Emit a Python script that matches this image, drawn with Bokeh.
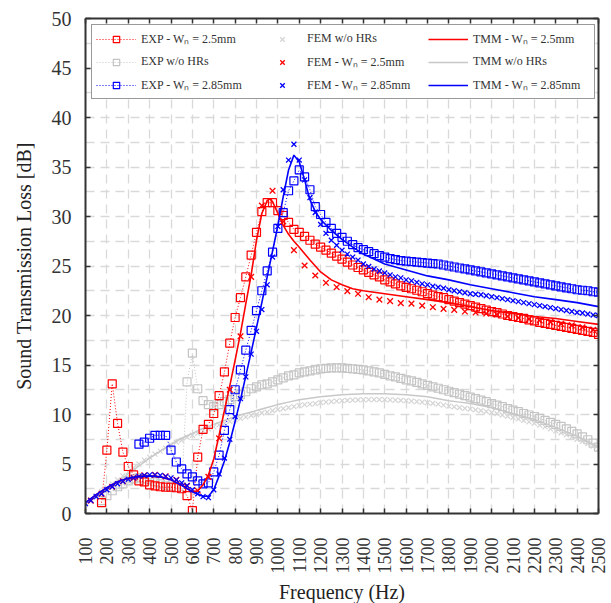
import math
from bokeh.plotting import figure
from bokeh.models import (LinearAxis, FixedTicker, Legend, LegendItem, Range1d)
from bokeh.embed import file_html
from bokeh.resources import INLINE

nan = float('nan')

# ---------------- data ----------------
EXP_FREQ = list(range(100, 2501, 25))

EXP_25 = [
    nan, nan, nan, 1.1,
    6.4, 13.1, 9.1, 6.2,
    4.75, 3.9, 3.3, 3.2,
    2.9, 2.8, 2.7, 2.65,
    2.65, 2.6, 2.5, 1.8,
    0.3, 5.7, 8.5, 9.0,
    10.1, 11.9, 14.3, 17.2,
    19.8, 21.8, 23.9, 26.1,
    28.4, 30.5, 31.4, 31.4,
    30.6, 30.1, 29.4, 28.7,
    28.4, 28.0, 27.6, 27.2,
    26.9, 26.6, 26.3, 26.0,
    25.7, 25.4, 25.1, 24.85,
    24.6, 24.35, 24.1, 23.9,
    23.6, 23.4, 23.2, 23.0,
    22.85, 22.7, 22.55, 22.4,
    22.2, 22.05, 21.9, 21.8,
    21.6, 21.45, 21.3, 21.15,
    21.0, 20.85, 20.7, 20.55,
    20.4, 20.3, 20.15, 20.0,
    19.9, 19.8, 19.7, 19.55,
    19.45, 19.3, 19.2, 19.1,
    19.0, 18.9, 18.8, 18.7,
    18.6, 18.5, 18.4, 18.3,
    18.1,
]

EXP_NOHR = [
    nan, nan, nan, 1.3,
    1.8, 2.3, 2.7, 3.0,
    3.3, 3.5, 3.6, 3.5,
    3.4, 3.2, 3.0, 2.8,
    2.7, 2.6, 2.7, 13.3,
    16.2, 12.6, 11.4, 11.0,
    10.8, 11.0, 11.3, 11.5,
    11.8, 12.0, 12.3, 12.6,
    12.8, 13.0, 13.1, 13.3,
    13.5, 13.7, 13.9, 14.0,
    14.2, 14.3, 14.4, 14.5,
    14.6, 14.65, 14.7, 14.7,
    14.7, 14.65, 14.6, 14.55,
    14.5, 14.4, 14.3, 14.2,
    14.05, 13.9, 13.8, 13.65,
    13.5, 13.4, 13.25, 13.1,
    12.95, 12.8, 12.65, 12.5,
    12.35, 12.2, 12.05, 11.9,
    11.75, 11.6, 11.45, 11.3,
    11.1, 10.95, 10.8, 10.6,
    10.45, 10.3, 10.1, 9.95,
    9.8, 9.6, 9.4, 9.2,
    9.0, 8.8, 8.55, 8.3,
    8.05, 7.75, 7.45, 7.1,
    6.7,
]

EXP_285 = [
    nan, nan, nan, nan,
    nan, nan, nan, nan,
    nan, nan, 7.0, 7.2,
    7.6, 7.9, 7.9, 7.9,
    6.4, 5.2, 4.5, 4.0,
    3.7, 3.3, 3.0, 3.1,
    4.2, 5.9, 8.4, 10.5,
    12.5, 14.5, 16.5, 18.5,
    20.5, 22.5, 24.5, 26.4,
    28.8, 30.4, 32.6, 33.6,
    34.7, 34.0, 32.7, 31.0,
    30.2, 29.4, 28.8, 28.3,
    27.9, 27.5, 27.15, 26.85,
    26.65, 26.45, 26.25, 26.05,
    25.9, 25.75, 25.65, 25.55,
    25.5, 25.45, 25.4, 25.35,
    25.3, 25.25, 25.2, 25.1,
    25.0, 24.9, 24.8, 24.7,
    24.6, 24.5, 24.4, 24.3,
    24.2, 24.1, 24.0, 23.9,
    23.8, 23.7, 23.6, 23.5,
    23.4, 23.3, 23.2, 23.1,
    23.0, 22.9, 22.8, 22.7,
    22.6, 22.55, 22.5, 22.4,
    22.35,
]

FEM_FREQ = list(range(100, 2501, 25))

FEM_NOHR = [
    1.0, 1.4, 1.8, 2.2,
    2.6, 3.0, 3.4, 3.8,
    4.2, 4.6, 5.0, 5.4,
    5.7, 6.0, 6.3, 6.6,
    6.9, 7.2, 7.4, 7.7,
    7.9, 8.1, 8.35, 8.55,
    8.75, 8.95, 9.1, 9.3,
    9.45, 9.6, 9.75, 9.9,
    10.0, 10.15, 10.25, 10.4,
    10.5, 10.6, 10.7, 10.8,
    10.9, 11.0, 11.05, 11.1,
    11.2, 11.25, 11.3, 11.35,
    11.4, 11.42, 11.45, 11.47,
    11.5, 11.5, 11.5, 11.5,
    11.5, 11.48, 11.45, 11.42,
    11.4, 11.35, 11.3, 11.25,
    11.2, 11.13, 11.05, 10.95,
    10.85, 10.78, 10.7, 10.62,
    10.55, 10.47, 10.4, 10.3,
    10.2, 10.08, 9.95, 9.82,
    9.7, 9.55, 9.4, 9.25,
    9.1, 8.92, 8.75, 8.55,
    8.35, 8.15, 7.95, 7.72,
    7.5, 7.28, 7.05, 6.8,
    6.55,
]

FEM_285 = [
    1.0, 1.3, 1.7, 2.0,
    2.4, 2.7, 3.0, 3.25,
    3.45, 3.6, 3.75, 3.85,
    3.9, 3.9, 3.85, 3.75,
    3.6, 3.4, 3.1, 2.8,
    2.4, 2.0, 1.7, 1.6,
    2.4, 4.0, 5.6, 7.5,
    9.8, 11.6, 13.8, 16.1,
    18.4, 20.6, 23.1, 25.9,
    29.0, 32.7, 35.7, 37.3,
    35.7, 33.7, 31.9, 30.4,
    29.2, 28.3, 27.6, 27.1,
    26.6, 26.2, 25.9, 25.6,
    25.2, 24.95, 24.7, 24.5,
    24.3, 24.1, 23.9, 23.8,
    23.6, 23.5, 23.35, 23.2,
    23.1, 22.95, 22.85, 22.75,
    22.6, 22.5, 22.4, 22.3,
    22.2, 22.15, 22.1, 22.0,
    21.9, 21.8, 21.7, 21.6,
    21.5, 21.4, 21.3, 21.2,
    21.1, 21.0, 20.9, 20.8,
    20.7, 20.6, 20.5, 20.4,
    20.3, 20.25, 20.15, 20.05,
    20.0,
]

FEM25_FREQ = list(range(125, 2476, 50))
FEM_25 = [
    1.3, 2.0, 2.7, 3.25, 3.6, 3.85, 3.9, 3.75, 3.4, 2.8,
    2.3, 3.7, 7.6, 12.5, 17.9, 23.9, 31.1, 32.6, 29.5, 26.6,
    25.05, 24.04, 23.3, 22.86, 22.46, 22.19, 21.85, 21.6, 21.45, 21.25,
    21.2, 21.0, 20.84, 20.67, 20.57, 20.4, 20.3, 20.2, 20.1, 19.9,
    19.77, 19.66, 19.5, 19.33, 19.16, 19.0, 18.8, 18.55,
]

TMM25_FREQ = [100, 150, 200, 250, 300, 350, 400, 450, 500, 550, 600,
              625, 650, 675, 700, 725, 750, 775, 800, 825, 850, 875, 900, 925, 950,
              962, 975, 1000, 1025, 1050, 1075, 1100,
              1150, 1200, 1250, 1300, 1350, 1400,
              1500, 1600, 1700, 1800, 1900, 2000, 2100, 2200, 2300, 2400, 2500]
TMM_25 = [1.1, 1.9, 2.6, 3.2, 3.55, 3.75, 3.8, 3.7, 3.4, 2.85, 2.2,
          2.3, 2.9, 3.9, 5.5, 7.9, 10.4, 12.9, 15.5, 18.2, 21.2, 24.1, 27.6, 30.3, 31.6,
          31.8, 31.5, 30.3, 29.1, 28.2, 27.5, 26.9,
          25.6, 24.4, 23.6, 23.1, 22.7, 22.5,
          22.2, 21.9, 21.6, 21.3, 20.9, 20.5, 20.2, 19.9, 19.7, 19.4, 19.1]

TMM285_FREQ = [100, 150, 200, 250, 300, 350, 400, 450, 500, 550, 600,
               625, 650, 675, 700, 725, 750, 775, 800, 825, 850, 875, 900, 925, 950,
               975, 1000, 1025, 1050, 1075, 1100, 1125, 1150, 1175, 1200,
               1250, 1300, 1350, 1400, 1450, 1500,
               1600, 1700, 1800, 1900, 2000, 2100, 2200, 2300, 2400, 2500]
TMM_285 = [1.1, 1.9, 2.6, 3.2, 3.55, 3.75, 3.8, 3.7, 3.4, 2.85, 2.2,
           1.95, 1.75, 1.75, 2.4, 3.8, 5.3, 7.2, 9.3, 11.5, 13.9, 16.3, 18.8, 21.3, 23.9,
           26.5, 29.1, 32.0, 34.7, 36.2, 35.5, 33.7, 31.7, 30.5, 29.7,
           28.6, 27.7, 26.9, 26.2, 25.7, 25.2,
           24.6, 24.0, 23.6, 23.1, 22.7, 22.3, 21.9, 21.6, 21.3, 20.9]

TMMNOHR_FREQ = list(range(100, 2501, 50))
TMM_NOHR = [1.1, 1.6, 2.4, 3.2, 4.0, 4.8, 5.6, 6.3, 7.0, 7.6,
            8.1, 8.6, 9.0, 9.4, 9.8, 10.1, 10.4, 10.7, 11.0, 11.25,
            11.5, 11.65, 11.8, 11.9, 12.0, 12.05, 12.1, 12.1, 12.1, 12.05,
            12.0, 11.9, 11.8, 11.6, 11.4, 11.25, 11.1, 10.9, 10.7, 10.4,
            10.1, 9.8, 9.5, 9.1, 8.7, 8.25, 7.8, 7.25, 6.7]

X_TICKS = list(range(100, 2501, 100))
Y_TICKS = list(range(0, 51, 5))
Y_MINOR = [2.5 + 5 * i for i in range(10)]

LABELS_EXP = ["EXP - Wₙ = 2.5mm", "EXP w/o HRs", "EXP - Wₙ = 2.85mm"]
LABELS_FEM = ["FEM w/o HRs", "FEM - Wₙ = 2.5mm", "FEM - Wₙ = 2.85mm"]
LABELS_TMM = ["TMM - Wₙ = 2.5mm", "TMM w/o HRs", "TMM - Wₙ = 2.85mm"]

RED = "#ff0000"
BLUE = "#0000ff"
GRAY_SQ = "#c4c4c4"
GRAY_X = "#d4d4d4"
GRAY_LN = "#c8c8c8"
FONT = "Liberation Serif"
FONT_AX = "Liberation Serif,serif"
AX = "#333333"

# ---------------- figure ----------------
p = figure(frame_width=513, frame_height=495,
           x_range=Range1d(100, 2500), y_range=Range1d(0, 50),
           output_backend="svg", toolbar_location=None,
           min_border_left=85, min_border_right=12,
           min_border_top=18, min_border_bottom=86)
p.outline_line_color = None
p.background_fill_color = "white"

xt = FixedTicker(ticks=X_TICKS)
yt = FixedTicker(ticks=Y_TICKS, minor_ticks=Y_MINOR)

xa = p.xaxis[0]
xa.ticker = xt
xa.major_label_orientation = math.pi / 2
xa.axis_label = "Frequency (Hz)"
ya = p.yaxis[0]
ya.ticker = yt
ya.axis_label = "Sound Transmission Loss [dB]"

for ax in (xa, ya):
    ax.axis_line_color = AX
    ax.axis_line_width = 2
    ax.major_tick_line_color = AX
    ax.major_tick_line_width = 1.5
    ax.major_tick_in = 5
    ax.major_tick_out = 0
    ax.minor_tick_in = 0
    ax.minor_tick_out = 0
    ax.major_label_text_font = FONT_AX
    ax.major_label_text_color = AX
    ax.major_label_text_font_style = "normal"
    ax.axis_label_text_font = FONT_AX
    ax.axis_label_text_font_style = "normal"
    ax.axis_label_text_color = "#222222"
    ax.axis_label_text_font_size = "20px"

xa.major_label_text_font_size = "18px"
xa.major_label_standoff = 24
xa.axis_label_standoff = 4
ya.major_label_text_font_size = "20px"
ya.major_label_standoff = 14
ya.axis_label_standoff = 14

for place, tk in (("above", xt), ("right", yt)):
    a = LinearAxis(ticker=tk)
    a.axis_line_color = AX
    a.axis_line_width = 2
    a.major_tick_line_color = AX
    a.major_tick_line_width = 1.5
    a.major_tick_in = 5
    a.major_tick_out = 0
    a.minor_tick_in = 0
    a.minor_tick_out = 0
    a.major_label_text_font_size = "1px"
    a.major_label_text_color = None
    a.major_label_standoff = 0
    p.add_layout(a, place)

p.xgrid.ticker = xt
p.ygrid.ticker = yt
for g in (p.xgrid[0], p.ygrid[0]):
    g.grid_line_color = "#d9d9d9"
    g.grid_line_dash = "9 6"
    g.grid_line_width = 1.3
p.ygrid[0].minor_grid_line_color = "#d9d9d9"
p.ygrid[0].minor_grid_line_dash = "9 6"
p.ygrid[0].minor_grid_line_width = 1.3

# ---------------- renderers ----------------
def exp_series(vals, color):
    ln = p.line(EXP_FREQ, vals, line_color=color, line_width=1, line_dash="1 2")
    sc = p.scatter(EXP_FREQ, vals, marker="square", size=8, fill_alpha=0,
                   line_color=color, line_width=1.2)
    return [ln, sc]

r_exp_nohr = exp_series(EXP_NOHR, GRAY_SQ)
r_fem_nohr = p.scatter(FEM_FREQ, FEM_NOHR, marker="x", size=7, line_color=GRAY_X, line_width=1.2)
r_tmm_nohr = p.line(TMMNOHR_FREQ, TMM_NOHR, line_color=GRAY_LN, line_width=1.5)

r_exp_25 = exp_series(EXP_25, RED)
r_exp_285 = exp_series(EXP_285, BLUE)
r_fem_25 = p.scatter(FEM25_FREQ, FEM_25, marker="x", size=8, line_color=RED, line_width=1.3)
r_fem_285 = p.scatter(FEM_FREQ, FEM_285, marker="x", size=7, line_color=BLUE, line_width=1.3)
r_tmm_25 = p.line(TMM25_FREQ, TMM_25, line_color=RED, line_width=1.6)
r_tmm_285 = p.line(TMM285_FREQ, TMM_285, line_color=BLUE, line_width=1.6)

items = [
    LegendItem(label=LABELS_EXP[0], renderers=r_exp_25),
    LegendItem(label=LABELS_EXP[1], renderers=r_exp_nohr),
    LegendItem(label=LABELS_EXP[2], renderers=r_exp_285),
    LegendItem(label=LABELS_FEM[0], renderers=[r_fem_nohr]),
    LegendItem(label=LABELS_FEM[1], renderers=[r_fem_25]),
    LegendItem(label=LABELS_FEM[2], renderers=[r_fem_285]),
    LegendItem(label=LABELS_TMM[0], renderers=[r_tmm_25]),
    LegendItem(label=LABELS_TMM[1], renderers=[r_tmm_nohr]),
    LegendItem(label=LABELS_TMM[2], renderers=[r_tmm_285]),
]
legend = Legend(items=items, location="top_left", orientation="vertical", nrows=3)
legend.margin = 6
legend.padding = 4
legend.spacing = 4
legend.glyph_width = 40
legend.glyph_height = 16
legend.label_height = 19
legend.label_width = 117
legend.label_standoff = 5
legend.label_text_font = FONT
legend.label_text_font_size = "12px"
legend.label_text_color = "#333333"
legend.border_line_color = AX
legend.border_line_width = 1.5
legend.background_fill_color = "white"
legend.background_fill_alpha = 1.0
p.add_layout(legend)

open("out.html", "w").write(file_html(p, INLINE))
